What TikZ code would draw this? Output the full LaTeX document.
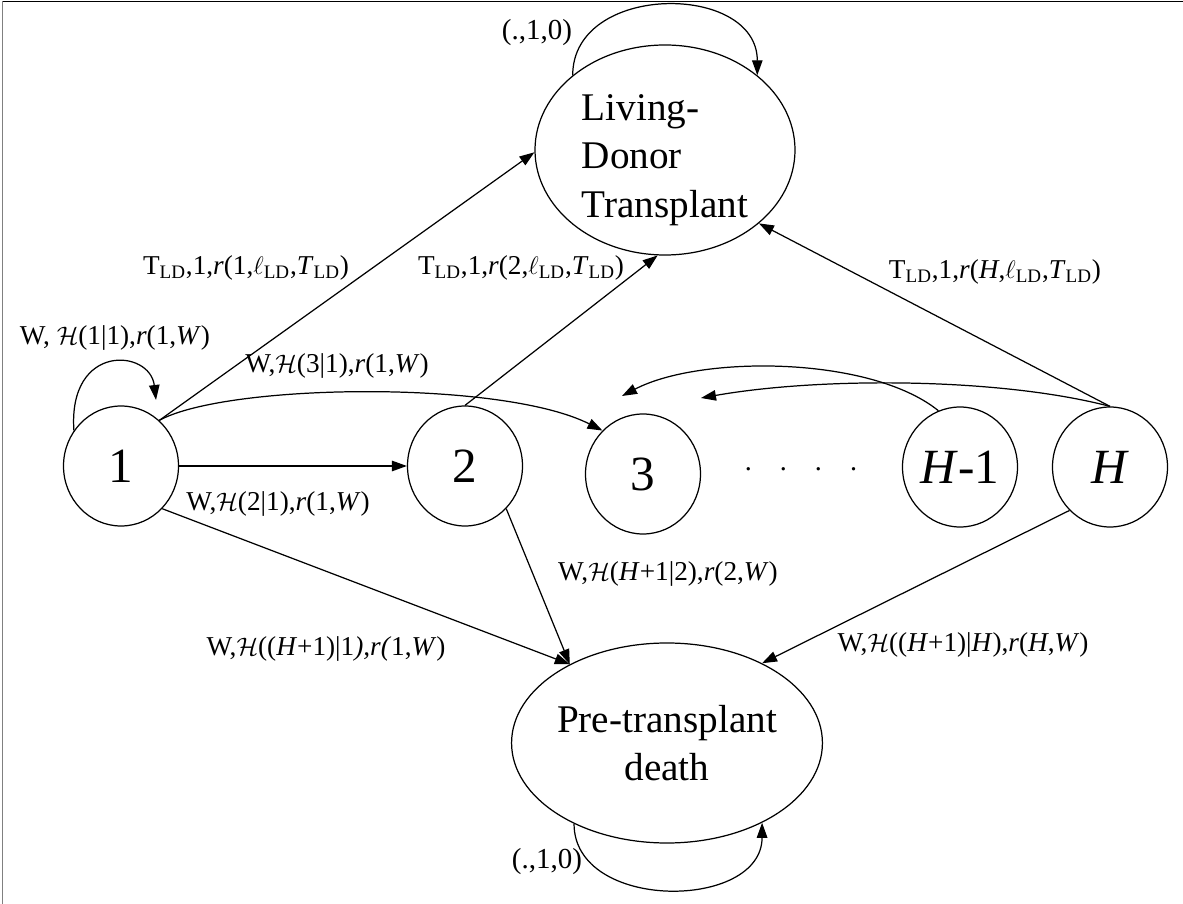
\documentclass[tikz,border=0pt]{standalone}
\usepackage{fontspec}
\setmainfont{Liberation Serif}
\usetikzlibrary{arrows.meta,shapes.geometric}
\tikzset{
  st/.style={draw,ellipse,line width=0.7pt,minimum width=2.3cm,minimum height=2.4cm,inner sep=0pt,font=\fontsize{28}{30}\selectfont},
  big/.style={draw,ellipse,line width=0.7pt,inner sep=0pt,font=\fontsize{22.3}{27.5}\selectfont},
  tr/.style={line width=0.7pt,-{Triangle[length=3mm,width=2.1mm]}},
  lb/.style={font=\fontsize{15.5}{17}\selectfont,inner sep=1pt},
  lp/.style={font=\fontsize{16.5}{18}\selectfont,inner sep=1pt}
}
\newcommand{\LD}{\textsubscript{LD}}
\newcommand{\Hc}{$\mathcal{H}$}

\begin{document}
\begin{tikzpicture}
\useasboundingbox (0,0) rectangle (23.66,-18.08);
\draw[gray,line width=0.8pt] (0.05,-18.08) -- (0.05,-0.03);
\draw[line width=0.8pt] (0.05,-0.03) -- (23.66,-0.03);
% states
\node[st] (n1) at (2.42,-9.32) {1};
\node[st] (n2) at (9.30,-9.32) {2};
\node[st] (n3) at (12.86,-9.48) {3};
\node[st] (nHm) at (19.2,-9.34) {\textit{H}-1};
\node[st] (nH) at (22.2,-9.34) {\textit{H}};
\node[font=\fontsize{16}{18}\selectfont] (dots) at (16.02,-9.38) {.\hspace{0.56cm}.\hspace{0.56cm}.\hspace{0.56cm}.};
\node[big,minimum width=5.2cm,minimum height=4.2cm] (ld) at (13.3,-3.0) {};
\node[font=\fontsize{22.3}{27.5}\selectfont,align=left] (ldt) at ([yshift=-0.2cm]ld.center) {Living-\\Donor\\Transplant};
\node[big,minimum width=4.86cm,minimum height=4.0cm,align=center] (pd) at (13.34,-14.86) {Pre-transplant\\death};
\coordinate (a1) at (3.12,-8.0);
\coordinate (t3a) at (12.44,-7.92);
\coordinate (t3b) at (14.02,-7.96);
% loops
\draw[tr] (n1.143) .. controls +(-0.12,1.76) and +(-0.12,1.02) .. (a1);
\draw[tr] (ld.141) .. controls +(0,1.86) and +(0,1.86) .. (ld.39);
\draw[tr] (pd.221) .. controls +(0,-1.76) and +(0,-1.76) .. (pd.320);
% transitions
\draw[tr] (n1.50) -- (ld.181);
\draw[tr] (n1.50) .. controls +(1.34,0.74) and +(-2.02,1.02) .. (n3.133);
\draw[tr] (n1.east) -- (n2.west);
\draw[tr] (n1.-46) -- (pd.141);
\draw[tr] (n2.-46) -- (pd.141);
\draw[tr] (n2.north) -- (ld.266);
\draw[tr] (nH.north) -- (ld.-38);
\draw[tr] (nH.north) .. controls +(-2.22,0.58) and +(2.38,0.42) .. (t3b);
\draw[tr] (nHm.111) .. controls +(-1.36,1.1) and +(1.56,0.82) .. (t3a);
\draw[tr] (nH.227) -- (pd.40);
% labels
\node[lb] (l11) at (2.3,-6.76) {W, \Hc(1|1),\textit{r}(1,\textit{W})};
\node[lb] (lt1) at (4.92,-5.36) {T\LD,1,\textit{r}(1,$\ell$\LD,\textit{T}\LD)};
\node[lb] (lt2) at (10.42,-5.36) {T\LD,1,\textit{r}(2,$\ell$\LD,\textit{T}\LD)};
\node[lb] (ltH) at (19.9,-5.44) {T\LD,1,\textit{r}(\textit{H},$\ell$\LD,\textit{T}\LD)};
\node[lb] (l31) at (6.74,-7.32) {W,\Hc(3|1),\textit{r}(1,\textit{W})};
\node[lb] (l21) at (5.56,-10.08) {W,\Hc(2|1),\textit{r}(1,\textit{W})};
\node[lb] (lp1) at (6.52,-12.98) {W,\Hc((\textit{H}+1)|1\textit{),r(}1,\textit{W})};
\node[lb] (lp2) at (13.36,-11.48) {W,\Hc(\textit{H}+1|2),\textit{r}(2,\textit{W})};
\node[lb] (lpH) at (19.26,-12.9) {W,\Hc((\textit{H}+1)|\textit{H}),\textit{r}(\textit{H},\textit{W})};
\node[lp] (lld) at (10.74,-0.66) {(.,1,0)};
\node[lp] (lpd) at (10.94,-17.24) {(.,1,0)};
\end{tikzpicture}
\end{document}
